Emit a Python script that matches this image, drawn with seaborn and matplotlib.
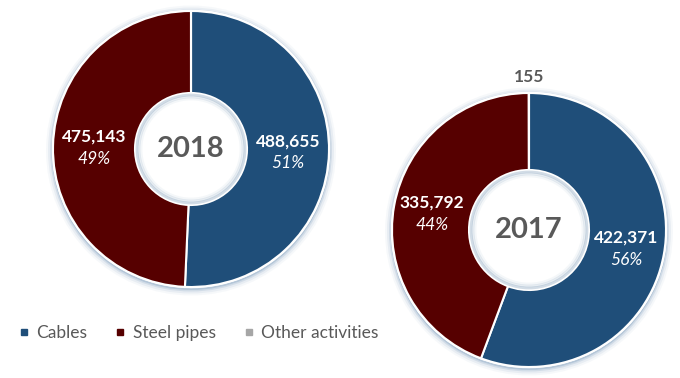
import matplotlib
matplotlib.use("Agg")
import matplotlib.pyplot as plt
import seaborn as sns
import numpy as np
from matplotlib.lines import Line2D
from matplotlib.patches import Circle

categories = ["Cables", "Steel pipes", "Other activities"]
years = ["2018", "2017"]
values_2018 = [488655, 475143, 0]
values_2017 = [422371, 335792, 155]
colors = ["#1F4E79", "#560000", "#A6A6A6"]

sns.set_style("white")
plt.rcParams["font.family"] = ["Lato", "DejaVu Sans"]

W, H = 680, 378
fig = plt.figure(figsize=(6.8, 3.78), dpi=100)
ax = fig.add_axes([0, 0, 1, 1])
ax.set_xlim(0, W)
ax.set_ylim(0, H)
ax.set_aspect("equal")
ax.axis("off")

donuts = [
    dict(vals=values_2018, year=years[0], cx=191, cy=H - 149, r=138, rin=56),
    dict(vals=values_2017, year=years[1], cx=529, cy=H - 230, r=137, rin=60),
]

for d in donuts:
    cx, cy, r, rin = d["cx"], d["cy"], d["r"], d["rin"]
    # soft outer glow (slightly offset downward)
    for k, a in [(7, 0.05), (5, 0.09), (3, 0.16), (1.5, 0.25)]:
        ax.add_patch(Circle((cx, cy - 1.5), r + k, color="#5F86AD", alpha=a, lw=0, zorder=1))
    ax.add_patch(Circle((cx, cy), r + 1.2, color="white", lw=0, zorder=1.5))
    wedges, _ = ax.pie(d["vals"], colors=colors, startangle=90, counterclock=False,
                       center=(cx, cy), radius=r, frame=True,
                       wedgeprops=dict(width=r - rin, edgecolor="white", linewidth=1.5),
                       normalize=True)
    for w in wedges:
        w.set_zorder(2)
    ax.add_patch(Circle((cx, cy), rin - 1, color="white", lw=0, zorder=2.5))
    # inner shadow
    for k, a in [(2, 0.35), (4, 0.18), (6, 0.08)]:
        ax.add_patch(Circle((cx, cy), rin - k, fill=False, ec="#7F9DB9", lw=2.0, alpha=a, zorder=3))
    ax.text(cx, cy, d["year"], ha="center", va="center", fontsize=21, fontweight="bold",
            color="#595959", zorder=4)
    total = sum(d["vals"])
    rm = (r + rin) / 2
    for i, (w, v) in enumerate(zip(wedges, d["vals"])):
        if v == 0:
            continue
        ang = np.deg2rad((w.theta1 + w.theta2) / 2)
        if v / total < 0.02:
            x = cx + (r + 16) * np.cos(ang)
            y = cy + (r + 16) * np.sin(ang)
            ax.text(x, y, f"{v:,}", ha="center", va="center", fontsize=12.5,
                    fontweight="bold", color="#595959", zorder=4)
            continue
        x = cx + rm * np.cos(ang)
        y = cy + rm * np.sin(ang)
        ax.text(x, y + 10, f"{v:,}", ha="center", va="center", fontsize=12.5,
                fontweight="bold", color="white", zorder=4)
        ax.text(x, y - 12, f"{round(100 * v / total)}%", ha="center", va="center",
                fontsize=12.5, fontstyle="italic", color="white", zorder=4)

handles = [Line2D([0], [0], marker="s", linestyle="none", markersize=5,
                  markerfacecolor=c, markeredgecolor=c) for c in colors]
leg = fig.legend(handles, categories, loc="center left", bbox_to_anchor=(0.005, (H - 333) / H),
                 ncol=3, frameon=False, fontsize=12.5, handlelength=0.6, handletextpad=0.4,
                 columnspacing=1.6)
for t in leg.get_texts():
    t.set_color("#595959")

fig.savefig("out.png", dpi=100)
